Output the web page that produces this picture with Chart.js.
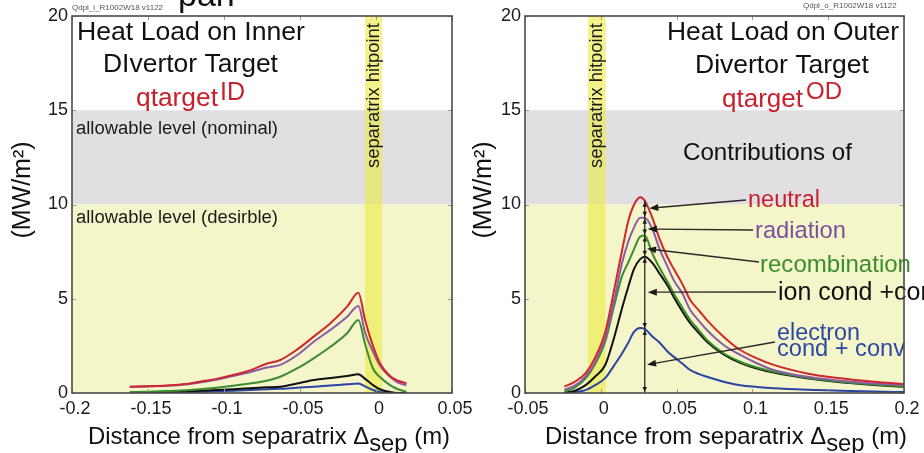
<!DOCTYPE html>
<html><head><meta charset="utf-8">
<script src="https://cdn.jsdelivr.net/npm/chart.js@4.4.1/dist/chart.umd.min.js"></script>
<style>
html,body{margin:0;padding:0;background:#fff;width:924px;height:453px;overflow:hidden;position:relative}
canvas{position:absolute;top:0}
#cL{left:0}
#cR{left:462px}
</style></head><body>
<canvas id="cL" width="480" height="453"></canvas>
<canvas id="cR" width="462" height="453"></canvas>
<script>
const FONT = '"Liberation Sans", Arial, Helvetica, sans-serif';

// ---- tick labels ----
const yTicks = [0, 5, 10, 15, 20];
const yTickLabels = ['0', '5', '10', '15', '20'];
const leftXTicks = [-0.2, -0.15, -0.1, -0.05, 0, 0.05];
const leftXTickLabels = ['-0.2', '-0.15', '-0.1', '-0.05', '0', '0.05'];
const rightXTicks = [-0.05, 0, 0.05, 0.1, 0.15, 0.2];
const rightXTickLabels = ['-0.05', '0', '0.05', '0.1', '0.15', '0.2'];

// ---- reference levels / bands ----
const nominalLevel = [10, 15];
const desirableLevel = [0, 10];
const leftHitpoint = [-0.0072, 0.004];
const rightHitpoint = [-0.0085, 0.0033];

// ---- inner divertor (left) ----
const leftX = [-0.162, -0.15, -0.1375, -0.125, -0.116, -0.105, -0.094, -0.083, -0.072, -0.063, -0.052, -0.041, -0.03, -0.019, -0.0116, -0.0072, -0.002, 0.0026, 0.0092, 0.0145, 0.02];
const leftNeutral = [0.33, 0.36, 0.40, 0.48, 0.60, 0.75, 0.95, 1.2, 1.55, 1.75, 2.3, 2.99, 3.7, 4.58, 5.32, 3.87, 2.5, 1.58, 0.90, 0.65, 0.51];
const leftRadiation = [0.32, 0.35, 0.38, 0.45, 0.55, 0.70, 0.90, 1.1, 1.35, 1.49, 2.0, 2.72, 3.35, 4.05, 4.62, 3.2, 2.2, 1.45, 0.86, 0.55, 0.40];
const leftRecombination = [0.05, 0.07, 0.10, 0.15, 0.20, 0.28, 0.38, 0.5, 0.65, 0.86, 1.3, 1.84, 2.45, 3.17, 3.87, 2.6, 1.3, 0.85, 0.42, 0.2, 0.07];
const leftIon = [0.0, 0.02, 0.05, 0.08, 0.12, 0.16, 0.2, 0.25, 0.3, 0.33, 0.5, 0.69, 0.8, 0.9, 1.0, 0.75, 0.42, 0.2, 0.05, 0.0, 0.0];
const leftElectron = [0.0, 0.01, 0.02, 0.04, 0.07, 0.09, 0.12, 0.16, 0.2, 0.22, 0.28, 0.33, 0.40, 0.46, 0.51, 0.35, 0.16, 0.05, 0.0, 0.0, 0.0];

// ---- outer divertor (right) ----
const rightX = [-0.024, -0.017, -0.010, -0.004, 0.003, 0.009, 0.014, 0.018, 0.022, 0.026, 0.029, 0.034, 0.039, 0.044, 0.048, 0.054, 0.059, 0.065, 0.070, 0.081, 0.092, 0.103, 0.114, 0.136, 0.158, 0.180, 0.200];
const rightNeutral = [0.34, 0.60, 1.06, 1.84, 3.25, 5.55, 7.55, 9.09, 10.0, 10.38, 10.2, 9.3, 8.12, 7.2, 6.6, 5.75, 4.93, 4.35, 3.87, 2.99, 2.28, 1.84, 1.49, 1.04, 0.78, 0.60, 0.48];
const rightRadiation = [0.18, 0.40, 0.88, 1.60, 2.95, 5.0, 6.9, 8.0, 8.8, 9.3, 9.3, 8.7, 7.59, 6.7, 6.0, 5.25, 4.40, 3.8, 3.34, 2.55, 2.02, 1.58, 1.22, 0.86, 0.65, 0.50, 0.42];
const rightRecombination = [0.08, 0.30, 0.78, 1.5, 2.75, 4.7, 6.2, 6.9, 7.65, 8.3, 8.35, 7.4, 6.6, 5.9, 5.29, 4.5, 3.87, 3.3, 2.81, 2.11, 1.66, 1.35, 1.13, 0.81, 0.60, 0.45, 0.35];
const rightIon = [0.02, 0.12, 0.42, 0.85, 1.5, 3.0, 4.5, 5.6, 6.6, 7.1, 7.23, 6.9, 6.3, 5.7, 5.11, 4.3, 3.70, 3.15, 2.72, 2.05, 1.6, 1.3, 1.08, 0.78, 0.57, 0.43, 0.33];
const rightElectron = [0.0, 0.05, 0.15, 0.4, 0.8, 1.49, 2.1, 2.65, 3.25, 3.45, 3.4, 3.0, 2.65, 2.2, 1.93, 1.55, 1.22, 1.0, 0.86, 0.60, 0.41, 0.32, 0.25, 0.17, 0.12, 0.08, 0.05];
const contributionX = 0.029;

const seriesNames = ['neutral', 'radiation', 'recombination', 'ion cond +conv', 'electron cond + conv'];
const seriesColors = ['#d0262c', '#8a5ca8', '#3b8c30', '#111111', '#2b45a3'];

const GREY = '#e0dfe2';
const YELLOW = '#f4f5c8';
const BAND = 'rgba(236,236,70,0.62)';

function pts(xs, ys) { return xs.map((x, i) => ({x, y: ys[i]})); }
function makeDatasets(xs, arrs) {
  return arrs.map((a, i) => ({
    label: seriesNames[i], data: pts(xs, a), borderColor: seriesColors[i],
    borderWidth: 2, pointRadius: 0, fill: false, tension: 0.25,
    cubicInterpolationMode: 'monotone'
  }));
}

function fitText(ctx, ox, text, x1, x2, base, color) {
  ctx.font = '100px ' + FONT;
  const w = ctx.measureText(text).width;
  const size = 100 * (x2 - x1) / w;
  ctx.font = size.toFixed(2) + 'px ' + FONT;
  ctx.fillStyle = color; ctx.textAlign = 'left'; ctx.textBaseline = 'alphabetic';
  ctx.fillText(text, x1 - ox, base);
  return size;
}
function sizedText(ctx, ox, text, x1, base, size, color) {
  ctx.font = size + 'px ' + FONT;
  ctx.fillStyle = color; ctx.textAlign = 'left'; ctx.textBaseline = 'alphabetic';
  ctx.fillText(text, x1 - ox, base);
}
function arrowHead(ctx, tx, ty, fx, fy, len, hw) {
  const ang = Math.atan2(ty - fy, tx - fx);
  ctx.beginPath();
  ctx.moveTo(tx, ty);
  ctx.lineTo(tx - len * Math.cos(ang) + hw * Math.sin(ang), ty - len * Math.sin(ang) - hw * Math.cos(ang));
  ctx.lineTo(tx - len * Math.cos(ang) - hw * Math.sin(ang), ty - len * Math.sin(ang) + hw * Math.cos(ang));
  ctx.closePath(); ctx.fill();
}

function panelPlugin(cfg) {
  return {
    id: 'panel' + cfg.name,
    beforeDatasetsDraw(chart) {
      const {ctx, chartArea: a, scales: {x, y}} = chart;
      ctx.save();
      ctx.fillStyle = '#ffffff'; ctx.fillRect(a.left, a.top, a.width, a.height);
      const g1 = y.getPixelForValue(nominalLevel[1]), g0 = y.getPixelForValue(nominalLevel[0]);
      ctx.fillStyle = GREY; ctx.fillRect(a.left, g1, a.width, g0 - g1);
      const d1 = y.getPixelForValue(desirableLevel[1]), d0 = y.getPixelForValue(desirableLevel[0]);
      ctx.fillStyle = YELLOW; ctx.fillRect(a.left, d1, a.width, d0 - d1);
      const b1 = x.getPixelForValue(cfg.band[0]), b2 = x.getPixelForValue(cfg.band[1]);
      ctx.fillStyle = BAND; ctx.fillRect(b1, a.top, b2 - b1, a.height);
      // band label
      ctx.save();
      ctx.translate((b1 + b2) / 2 + 0.5, cfg.bandTextStart);
      ctx.rotate(-Math.PI / 2);
      ctx.font = '100px ' + FONT;
      const t = 'separatrix hitpoint';
      const s = 100 * (cfg.bandTextStart - cfg.bandTextEnd) / ctx.measureText(t).width;
      ctx.font = s.toFixed(2) + 'px ' + FONT;
      ctx.fillStyle = '#1a1a1a'; ctx.textAlign = 'left'; ctx.textBaseline = 'middle';
      ctx.fillText(t, 0, 0);
      ctx.restore();
      ctx.restore();
    },
    afterDatasetsDraw(chart) {
      const {ctx, chartArea: a, scales: {x, y}} = chart;
      const ox = cfg.ox;
      ctx.save();
      cfg.texts.forEach(t => {
        if (t.x2 !== undefined) fitText(ctx, ox, t.t, t.x, t.x2, t.b, t.c);
        else sizedText(ctx, ox, t.t, t.x, t.b, t.s, t.c);
      });
      if (cfg.arrows) {
        ctx.strokeStyle = '#2a2a2a'; ctx.fillStyle = '#1a1a1a'; ctx.lineWidth = 1.3;
        // vertical contribution line
        const idx = rightX.indexOf(contributionX);
        const vx = x.getPixelForValue(contributionX);
        const levels = [rightNeutral[idx], rightRadiation[idx], rightRecombination[idx], rightIon[idx], rightElectron[idx], 0];
        ctx.beginPath(); ctx.moveTo(vx, y.getPixelForValue(levels[0])); ctx.lineTo(vx, y.getPixelForValue(0)); ctx.stroke();
        for (let i = 0; i < levels.length - 1; i++) {
          const top = y.getPixelForValue(levels[i]) + 1, bot = y.getPixelForValue(levels[i + 1]) - 1;
          arrowHead(ctx, vx, top, vx, top + 10, 5, 2.2);
          arrowHead(ctx, vx, bot, vx, bot - 10, 5, 2.2);
        }
        cfg.arrows.forEach(ar => {
          const tx = x.getPixelForValue(ar.tip[0]), ty = y.getPixelForValue(ar.tip[1]);
          const fx = ar.from[0] - ox, fy = ar.from[1];
          ctx.beginPath(); ctx.moveTo(fx, fy); ctx.lineTo(tx + 6, ty + (fy - ty) * 6 / (fx - tx)); ctx.stroke();
          arrowHead(ctx, tx, ty, fx, fy, 9, 3.5);
        });
      }
      ctx.restore();
    },
    afterDraw(chart) {
      const {ctx, chartArea: a, scales: {x, y}} = chart;
      const ox = cfg.ox;
      ctx.save();
      // tick marks inside frame
      ctx.strokeStyle = '#9a9a9a'; ctx.lineWidth = 1;
      cfg.xTicks.forEach(v => {
        const px = Math.round(x.getPixelForValue(v)) + 0.5;
        ctx.beginPath(); ctx.moveTo(px, a.top); ctx.lineTo(px, a.top + 4);
        ctx.moveTo(px, a.bottom); ctx.lineTo(px, a.bottom - 4); ctx.stroke();
      });
      yTicks.forEach(v => {
        const py = Math.round(y.getPixelForValue(v)) + 0.5;
        ctx.beginPath(); ctx.moveTo(a.left, py); ctx.lineTo(a.left + 4, py);
        ctx.moveTo(a.right, py); ctx.lineTo(a.right - 4, py); ctx.stroke();
      });
      // frame
      ctx.strokeStyle = '#4a4a4a'; ctx.lineWidth = 1.6;
      ctx.strokeRect(a.left, a.top, a.width, a.height);
      // y title
      ctx.save();
      ctx.translate(cfg.yTitleX - ox, cfg.yTitleY);
      ctx.rotate(-Math.PI / 2);
      ctx.font = '25px ' + FONT; ctx.fillStyle = '#111'; ctx.textAlign = 'center'; ctx.textBaseline = 'middle';
      ctx.fillText('(MW/m\u00B2)', 0, 0);
      ctx.restore();
      // x title with subscript
      const p1 = 'Distance from separatrix \u0394', p2 = 'sep', p3 = ' (m)';
      ctx.font = '100px ' + FONT;
      const W = ctx.measureText(p1).width + ctx.measureText(p2).width + ctx.measureText(p3).width;
      const fs = 100 * (cfg.xTitle[1] - cfg.xTitle[0]) / W;
      ctx.font = fs.toFixed(2) + 'px ' + FONT; ctx.fillStyle = '#111'; ctx.textAlign = 'left'; ctx.textBaseline = 'alphabetic';
      let cx = cfg.xTitle[0] - ox;
      ctx.fillText(p1, cx, cfg.xTitle[2]); cx += ctx.measureText(p1).width;
      ctx.fillText(p2, cx, cfg.xTitle[2] + fs * 0.28); cx += ctx.measureText(p2).width;
      ctx.fillText(p3, cx, cfg.xTitle[2]);
      // small id text
      ctx.font = '8px ' + FONT; ctx.fillStyle = '#555';
      ctx.fillText(cfg.idText[0], cfg.idText[1] - ox, cfg.idText[2]);
      (cfg.extra || []).forEach(t => sizedText(ctx, ox, t.t, t.x, t.b, t.s, t.c));
      ctx.restore();
    }
  };
}

function makeChart(id, xs, arrs, xmin, xmax, xTicks, xLabels, yWidth, padRight, cfg) {
  return new Chart(document.getElementById(id), {
    type: 'line',
    data: {datasets: makeDatasets(xs, arrs)},
    options: {
      responsive: false, animation: false, devicePixelRatio: 1,
      layout: {padding: {top: 16, right: padRight, bottom: 0, left: 0}},
      plugins: {legend: {display: false}, tooltip: {enabled: false}, title: {display: false}},
      scales: {
        x: {
          type: 'linear', min: xmin, max: xmax,
          afterBuildTicks: s => { s.ticks = xTicks.map(v => ({value: v})); },
          afterFit: s => { s.height = 60; },
          ticks: {callback: (v, i) => xLabels[i], font: {size: 18, family: FONT}, color: '#1a1a1a', padding: 5, labelOffset: 3, maxRotation: 0, autoSkip: false},
          grid: {display: false, drawTicks: false}, border: {display: false}
        },
        y: {
          min: 0, max: 20,
          afterBuildTicks: s => { s.ticks = yTicks.map(v => ({value: v})); },
          afterFit: s => { s.width = yWidth; },
          ticks: {callback: (v, i) => yTickLabels[i], font: {size: 18, family: FONT}, color: '#1a1a1a', padding: 4, autoSkip: false},
          grid: {display: false, drawTicks: false}, border: {display: false}
        }
      }
    },
    plugins: [panelPlugin(cfg)]
  });
}

const RED = '#c81f2b', PURPLE = '#7e4f9e', GREEN = '#3d8d2f', BLUE = '#2c48a6', BLACK = '#111';

makeChart('cL', leftX, [leftNeutral, leftRadiation, leftRecombination, leftIon, leftElectron],
  -0.2, 0.05, leftXTicks, leftXTickLabels, 72, 28, {
  name: 'L', ox: 0, band: leftHitpoint, bandTextStart: 168, bandTextEnd: 23,
  xTicks: leftXTicks, yTitleX: 23, yTitleY: 190, xTitle: [88, 450, 444],
  idText: ['Qdpl_i_R1002W18 v1122', 72, 10],
  extra: [{t: 'pan', x: 178, b: 6, s: 34, c: '#111'}],
  texts: [
    {t: 'Heat Load on Inner', x: 77, x2: 305, b: 40, c: BLACK},
    {t: 'DIvertor Target', x: 103, x2: 278, b: 72, c: BLACK},
    {t: 'qtarget', x: 136, x2: 218, b: 106, c: RED},
    {t: 'ID', x: 220, x2: 245, b: 100, c: RED},
    {t: 'allowable level (nominal)', x: 76, x2: 278, b: 134, c: '#1a1a1a'},
    {t: 'allowable level (desirble)', x: 76, x2: 278, b: 223, c: '#1a1a1a'}
  ]
});

makeChart('cR', rightX, [rightNeutral, rightRadiation, rightRecombination, rightIon, rightElectron],
  -0.05, 0.2, rightXTicks, rightXTickLabels, 63, 20, {
  name: 'R', ox: 462, band: rightHitpoint, bandTextStart: 168, bandTextEnd: 23,
  xTicks: rightXTicks, yTitleX: 484, yTitleY: 190, xTitle: [545, 907, 444],
  idText: ['Qdpl_o_R1002W18 v1122', 803, 8],
  texts: [
    {t: 'Heat Load on Outer', x: 667, x2: 899, b: 40, c: BLACK},
    {t: 'Divertor Target', x: 695, x2: 869, b: 73, c: BLACK},
    {t: 'qtarget', x: 722, x2: 803, b: 107, c: RED},
    {t: 'OD', x: 806, x2: 842, b: 99, c: RED},
    {t: 'Contributions of', x: 683, x2: 852, b: 160, c: BLACK},
    {t: 'neutral', x: 748, x2: 820, b: 207, c: RED},
    {t: 'radiation', x: 755, x2: 846, b: 238, c: PURPLE},
    {t: 'recombination', x: 760, x2: 911, b: 272, c: GREEN},
    {t: 'ion cond +conv', x: 778, s: 25, b: 300, c: BLACK},
    {t: 'electron', x: 777, x2: 860, b: 340, c: BLUE},
    {t: 'cond + conv', x: 777, x2: 905, b: 356, c: BLUE}
  ],
  arrows: [
    {from: [746, 200], tip: [0.032, 9.8]},
    {from: [753, 230], tip: [0.031, 8.7]},
    {from: [759, 262], tip: [0.0305, 7.65]},
    {from: [776, 292], tip: [0.031, 5.35]},
    {from: [775, 342], tip: [0.0305, 1.5]}
  ]
});
</script>
</body></html>
